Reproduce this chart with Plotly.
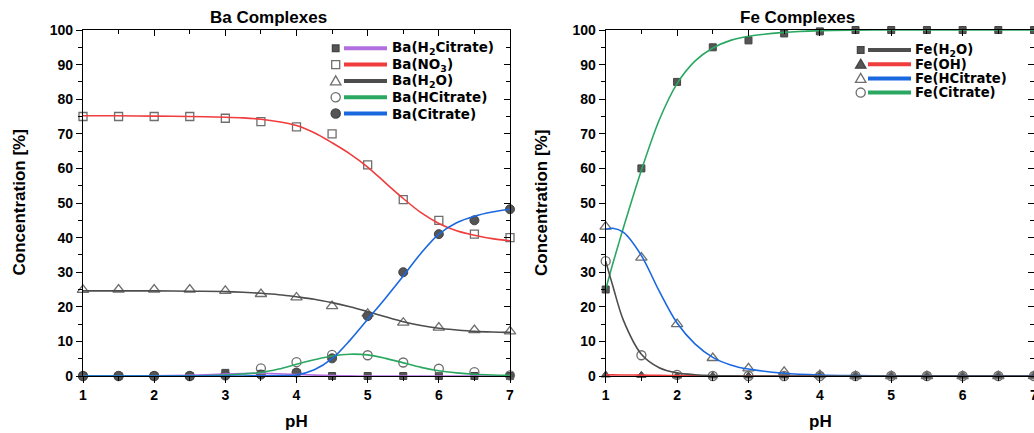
import plotly.graph_objects as go

W, H = 1034, 433

# ---------------- data ----------------
ph = [1.0, 1.5, 2.0, 2.5, 3.0, 3.5, 4.0, 4.5, 5.0, 5.5, 6.0, 6.5, 7.0]

# Ba species, calculated points
ba_h2cit = [0, 0, 0, 0, 0.9, 0.6, 0.9, 0, 0, 0, 0, 0, 0]
ba_no3 = [75, 75, 75, 75, 74.5, 73.5, 72, 70, 61, 51, 45, 41, 40]
ba_h2o = [24.9, 25, 25, 25, 24.6, 23.7, 22.7, 20.2, 18.0, 15.4, 14.0, 13.3, 12.9]
ba_hcit = [0, 0, 0, 0, 0.2, 2.2, 4.0, 6.1, 6.0, 3.9, 2.1, 1.1, 0.2]
ba_cit = [0, 0, 0, 0, 0.2, 0.4, 1.0, 5.1, 17.3, 30.0, 41.0, 45.0, 48.2]

# Ba species, fitted curves
ph_fit_ba = [1, 1.5, 2, 2.5, 3, 3.25, 3.5, 3.75, 4, 4.25, 4.5, 4.75, 5,
             5.25, 5.5, 5.75, 6, 6.25, 6.5, 6.75, 7]
ba_h2cit_fit = [0, 0, 0.05, 0.2, 0.55, 0.7, 0.75, 0.65, 0.45, 0.25, 0.1, 0.03, 0,
                0, 0, 0, 0, 0, 0, 0, 0]
ba_no3_fit = [75.2, 75.2, 75.1, 75.0, 74.8, 74.6, 74.2, 73.5, 72.4, 70.3, 67.4, 64.2, 60.4,
              55.8, 51.3, 47.2, 44.1, 42.0, 40.7, 39.7, 39.1]
ba_h2o_fit = [24.6, 24.6, 24.6, 24.5, 24.4, 24.2, 23.9, 23.5, 22.9, 22.2, 21.2, 20.0, 18.6,
              17.1, 15.7, 14.6, 13.8, 13.3, 12.9, 12.7, 12.6]
ba_hcit_fit = [0, 0, 0, 0.05, 0.3, 0.6, 1.0, 2.0, 3.4, 4.7, 5.8, 6.3, 6.1,
               5.1, 3.8, 2.5, 1.5, 0.9, 0.5, 0.3, 0.2]
ba_cit_fit = [0, 0, 0, 0, 0, 0, 0.05, 0.1, 0.3, 1.8, 5.0, 10.3, 16.4,
              22.5, 28.9, 35.5, 41.0, 44.3, 46.2, 47.4, 48.2]

# Fe species, calculated points
fe_h2o = [25, 60, 85, 95, 97, 99, 99.6, 100, 100, 100, 100, 100, 100]
fe_oh = [0.3, 0.2, 0, 0, 0, 0, 0, 0, 0, 0, 0, 0, 0]
fe_hcit = [43.2, 34.2, 15.0, 5.2, 2.2, 1.2, 0.3, 0, 0, 0, 0, 0, 0]
fe_cit = [33.2, 6.0, 0.3, 0, 0, 0, 0, 0, 0, 0, 0, 0, 0]

# Fe species, fitted curves
ph_fit_fe = [1, 1.1, 1.25, 1.5, 1.75, 2, 2.25, 2.5, 2.75, 3, 3.5, 4, 4.5, 5, 5.5, 6, 6.5, 7]
fe_h2o_fit = [25, 32.5, 43, 59.5, 74, 84.5, 91, 94.8, 97, 98.2, 99.3, 99.8, 99.95,
              100, 100, 100, 100, 100]
fe_oh_fit = [0.35, 0.33, 0.3, 0.25, 0.17, 0.1, 0.06, 0.03, 0.01, 0, 0, 0, 0, 0, 0, 0, 0, 0]
fe_hcit_fit = [42.4, 42.7, 41.5, 34.8, 24.5, 15.3, 9.3, 5.4, 3.2, 2.0, 0.8, 0.3, 0.1,
               0, 0, 0, 0, 0]
fe_cit_fit = [33.2, 26, 16, 6.3, 2.4, 0.9, 0.35, 0.12, 0.05, 0, 0, 0, 0, 0, 0, 0, 0, 0]

# ---------------- styling ----------------
PURPLE = "#b26fe0"
RED = "#f03c3c"
DARK = "#4d4d4d"
GREEN = "#2aa862"
BLUE = "#1a68e0"
MK_FILL = "#555555"
MK_EDGE = "#6e6e6e"

# (label, points, curve, symbol, line colour, marker size)
ba_series = [
    ("Ba(H<sub>2</sub>Citrate)", ba_h2cit, ba_h2cit_fit, "square", PURPLE, 7),
    ("Ba(NO<sub>3</sub>)", ba_no3, ba_no3_fit, "square-open", RED, 8),
    ("Ba(H<sub>2</sub>O)", ba_h2o, ba_h2o_fit, "triangle-up-open", DARK, 10),
    ("Ba(HCitrate)", ba_hcit, ba_hcit_fit, "circle-open", GREEN, 9),
    ("Ba(Citrate)", ba_cit, ba_cit_fit, "circle", BLUE, 9),
]
# (label, points, symbol, legend line colour, marker size)
fe_series = [
    ("Fe(H<sub>2</sub>O)", fe_h2o, "square", DARK, 7),
    ("Fe(OH)", fe_oh, "triangle-up", RED, 8),
    ("Fe(HCitrate)", fe_hcit, "triangle-up-open", BLUE, 10),
    ("Fe(Citrate)", fe_cit, "circle-open", GREEN, 9),
]
fe_curves = [(fe_h2o_fit, GREEN), (fe_oh_fit, RED), (fe_hcit_fit, BLUE), (fe_cit_fit, DARK)]

fig = go.Figure()


def marker(sym, size):
    if sym.endswith("-open"):
        return dict(symbol=sym, size=size, color=MK_EDGE, line=dict(color=MK_EDGE, width=1.3))
    return dict(symbol=sym, size=size, color=MK_FILL, line=dict(color="#444444", width=1))


# Ba panel
for name, pts, fit, sym, col, size in ba_series:
    fig.add_trace(go.Scatter(x=ph, y=pts, mode="markers", marker=marker(sym, size),
                             xaxis="x", yaxis="y", cliponaxis=False, showlegend=False,
                             hoverinfo="skip"))
for name, pts, fit, sym, col, size in ba_series:
    fig.add_trace(go.Scatter(x=ph_fit_ba, y=fit, mode="lines",
                             line=dict(color=col, width=1.6, shape="spline", smoothing=0.9),
                             xaxis="x", yaxis="y", cliponaxis=False, showlegend=False,
                             hoverinfo="skip"))

# Fe panel
for name, pts, sym, col, size in fe_series:
    fig.add_trace(go.Scatter(x=ph, y=pts, mode="markers", marker=marker(sym, size),
                             xaxis="x2", yaxis="y2", cliponaxis=False, showlegend=False,
                             hoverinfo="skip"))
for fit, col in fe_curves:
    fig.add_trace(go.Scatter(x=ph_fit_fe, y=fit, mode="lines",
                             line=dict(color=col, width=1.6, shape="spline", smoothing=0.9),
                             xaxis="x2", yaxis="y2", cliponaxis=False, showlegend=False,
                             hoverinfo="skip"))

# invisible traces so the mirrored frame axes are laid out
for xa, ya in (("x3", "y3"), ("x4", "y4")):
    fig.add_trace(go.Scatter(x=ph, y=ba_no3, mode="markers", marker=dict(opacity=0),
                             xaxis=xa, yaxis=ya, showlegend=False, hoverinfo="skip"))


def px(x):
    return x / W


def py(y):
    return 1 - y / H


TICKFONT = dict(family="Liberation Sans, Arial", size=14, color="black", weight="bold")
YDOM = [py(376), py(30)]
XDOM_BA = [px(83), px(510)]
XDOM_FE = [px(605.7), 1.0]


def xaxis(dom, anchor, **kw):
    d = dict(domain=dom, anchor=anchor, range=[1, 7], dtick=1, tick0=1,
             showline=True, linecolor="black", linewidth=1.3,
             ticks="outside", ticklen=6, tickwidth=1.3, tickcolor="black",
             minor=dict(ticks="outside", ticklen=3.5, tickwidth=1.1, dtick=0.5, tickcolor="black"),
             showgrid=False, zeroline=False, tickfont=TICKFONT, automargin=False,
             ticklabeloverflow="allow", fixedrange=True)
    d.update(kw)
    return d


def yaxis(anchor, **kw):
    d = dict(domain=YDOM, anchor=anchor, range=[0, 100], dtick=10, tick0=0,
             showline=True, linecolor="black", linewidth=1.3,
             ticks="outside", ticklen=6, tickwidth=1.3, tickcolor="black",
             minor=dict(ticks="outside", ticklen=3.5, tickwidth=1.1, dtick=5, tickcolor="black"),
             showgrid=False, zeroline=False, tickfont=TICKFONT, automargin=False,
             fixedrange=True)
    d.update(kw)
    return d


inside = dict(ticks="inside", showticklabels=False)
minor_in_x = dict(ticks="inside", ticklen=3.5, tickwidth=1.1, dtick=0.5, tickcolor="black")
minor_in_y = dict(ticks="inside", ticklen=3.5, tickwidth=1.1, dtick=5, tickcolor="black")

fig.update_layout(
    width=W, height=H,
    margin=dict(l=0, r=0, t=0, b=0),
    paper_bgcolor="white", plot_bgcolor="white",
    xaxis=xaxis(XDOM_BA, "y"),
    yaxis=yaxis("x"),
    xaxis2=xaxis(XDOM_FE, "y2"),
    yaxis2=yaxis("x2"),
    xaxis3=xaxis(XDOM_BA, "y3", overlaying="x", side="top", minor=minor_in_x, **inside),
    yaxis3=yaxis("x3", overlaying="y", side="right", minor=minor_in_y, **inside),
    xaxis4=xaxis(XDOM_FE, "y4", overlaying="x2", side="top", minor=minor_in_x, **inside),
    yaxis4=yaxis("x4", overlaying="y2", side="right", minor=minor_in_y, **inside),
    showlegend=False,
)

TITLE_FONT = dict(family="Liberation Sans, Arial", size=17, color="black", weight="bold")
ann = []
shapes = []

# panel titles
ann.append(dict(text="Ba Complexes", x=px(268), y=py(17), xref="paper", yref="paper",
                showarrow=False, font=TITLE_FONT, xanchor="center", yanchor="middle"))
ann.append(dict(text="Fe Complexes", x=px(797), y=py(17), xref="paper", yref="paper",
                showarrow=False, font=TITLE_FONT, xanchor="center", yanchor="middle"))
# axis titles
for cx in (19.5, 542):
    ann.append(dict(text="Concentration [%]", x=px(cx), y=py(203), xref="paper", yref="paper",
                    showarrow=False, font=TITLE_FONT, textangle=-90,
                    xanchor="center", yanchor="middle"))
for cx in (296.5, 820):
    ann.append(dict(text="pH", x=px(cx), y=py(421), xref="paper", yref="paper",
                    showarrow=False, font=TITLE_FONT, xanchor="center", yanchor="middle"))


def legend_symbol(sym, cx, cy):
    filled = not sym.endswith("-open")
    fill = MK_FILL if filled else "white"
    edge = "#444444" if filled else MK_EDGE
    base = dict(xref="paper", yref="paper", fillcolor=fill, line=dict(color=edge, width=1.3))
    if sym.startswith("square"):
        h = 3.3 if filled else 4.0
        shapes.append(dict(type="rect", x0=px(cx - h), x1=px(cx + h),
                           y0=py(cy + h), y1=py(cy - h), **base))
    elif sym.startswith("circle"):
        r = 4.6
        shapes.append(dict(type="circle", x0=px(cx - r), x1=px(cx + r),
                           y0=py(cy + r), y1=py(cy - r), **base))
    else:
        w, t, b = 5.2, 5.0, 4.0
        path = "M {:.5f},{:.5f} L {:.5f},{:.5f} L {:.5f},{:.5f} Z".format(
            px(cx), py(cy - t), px(cx + w), py(cy + b), px(cx - w), py(cy + b))
        shapes.append(dict(type="path", path=path, **base))


# legends: symbol glyph, colour bar, label
def legend(entries, x_sym, x_l0, x_l1, x_txt, y0, dy, fsize):
    font = dict(family="DejaVu Sans", size=fsize, color="black", weight="bold")
    for i, (label, sym, col) in enumerate(entries):
        yy = y0 + i * dy
        legend_symbol(sym, x_sym, yy)
        shapes.append(dict(type="line", xref="paper", yref="paper",
                           x0=px(x_l0), x1=px(x_l1), y0=py(yy), y1=py(yy),
                           line=dict(color=col, width=4)))
        ann.append(dict(text=label, x=px(x_txt), y=py(yy), xref="paper", yref="paper",
                        showarrow=False, xanchor="left", yanchor="middle", font=font,
                        borderpad=0))


legend([(s[0], s[3], s[4]) for s in ba_series], 335.7, 344, 387, 391, 48.3, 16.3, 13.5)
legend([(s[0], s[2], s[3]) for s in fe_series], 860.7, 868, 911, 914, 50, 14.2, 13.2)

fig.update_layout(annotations=ann, shapes=shapes)
fig.write_html("out.html")
